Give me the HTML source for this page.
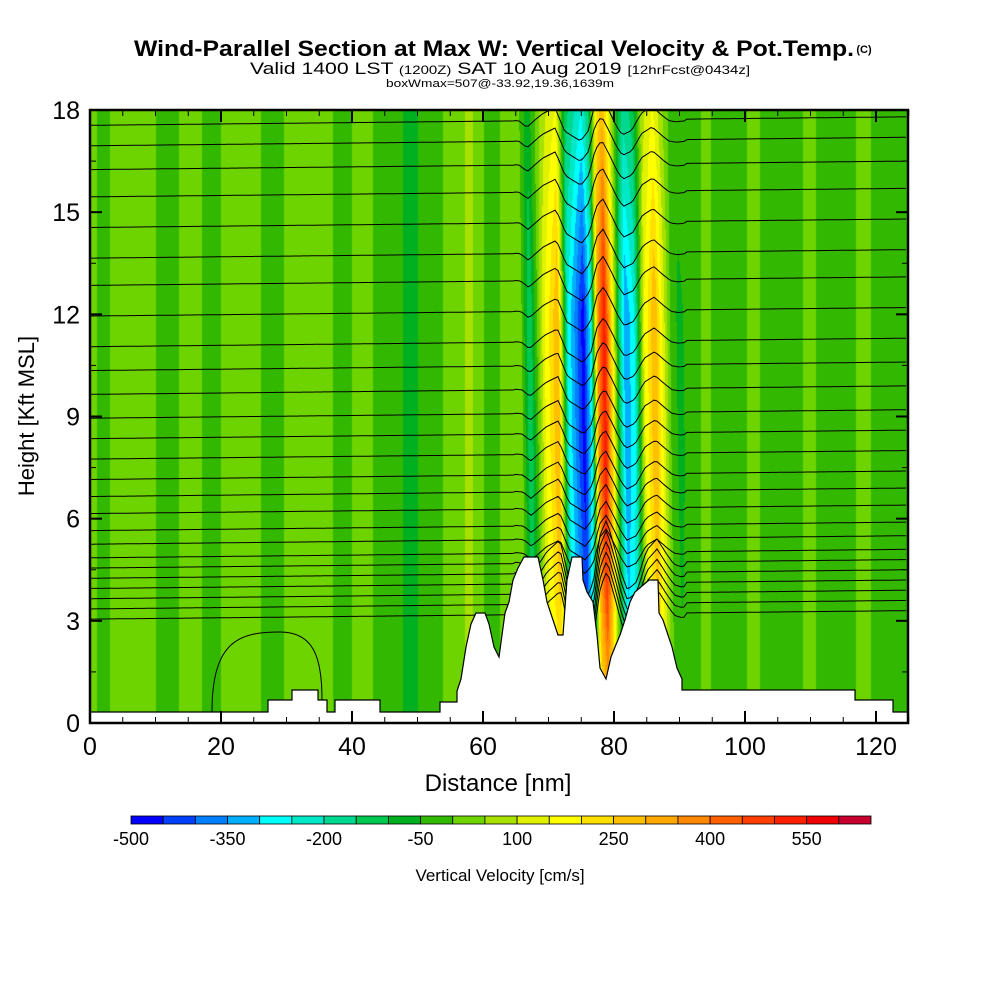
<!DOCTYPE html>
<html><head><meta charset="utf-8"><style>
html,body{margin:0;padding:0;background:#fff;width:1000px;height:1000px;overflow:hidden}
#wrap{position:relative;width:1000px;height:1000px}
canvas{position:absolute;left:90px;top:110px}
svg{position:absolute;left:0;top:0}
text{font-family:"Liberation Sans",sans-serif;fill:#000}
</style></head><body>
<div id="wrap">
<canvas id="field" width="818" height="613"></canvas>
<svg id="ov" width="1000" height="1000">
<defs><clipPath id="pc"><rect x="90" y="110" width="818" height="613"/></clipPath></defs>
<text x="494" y="56" text-anchor="middle" font-size="22" font-weight="bold" textLength="720" lengthAdjust="spacingAndGlyphs">Wind-Parallel Section at Max W: Vertical Velocity &amp; Pot.Temp.</text>
<text x="864" y="53" text-anchor="middle" font-size="11" font-weight="bold">(C)</text>
<text x="500" y="74" text-anchor="middle" font-size="17" textLength="500" lengthAdjust="spacingAndGlyphs">Valid 1400 LST <tspan font-size="12">(1200Z)</tspan> SAT 10 Aug 2019 <tspan font-size="12">[12hrFcst@0434z]</tspan></text>
<text x="500" y="87" text-anchor="middle" font-size="11" textLength="228" lengthAdjust="spacingAndGlyphs">boxWmax=507@-33.92,19.36,1639m</text>
<g id="contours" clip-path="url(#pc)"></g>
<polygon id="terrain" fill="#fff" stroke="#000" stroke-width="1.2"></polygon>
<rect x="90" y="110" width="818" height="613" fill="none" stroke="#000" stroke-width="2.5"></rect>
<g id="axes"></g>
<text x="498" y="791" text-anchor="middle" font-size="24">Distance [nm]</text>
<text transform="translate(34,416) rotate(-90)" text-anchor="middle" font-size="22">Height [Kft MSL]</text>
<g id="cbar"></g>
<text x="500" y="881" text-anchor="middle" font-size="17">Vertical Velocity [cm/s]</text>
</svg>
</div>
<script>
// ---- data ----
const xTicks=[0,20,40,60,80,100,120];
const yTicks=[0,3,6,9,12,15,18];
const cbarLabels=[-500,-350,-200,-50,100,250,400,550];
const cbarColors=['#0000ff','#0040ff','#0080ff','#00b0ff','#00ffff','#00e8c8','#00d890','#00c850','#00b020','#33b800','#6dd400','#a8e000','#e0f200','#ffff00','#ffe000','#ffc000','#ffa800','#ff8800','#ff6000','#ff4000','#ff2000','#f00000','#c80030'];
const profNm=[0,2,4,9,11,16,18,22,24,28,31,36,38,42,45,49,52,55,58,61,64,66,67.2,69.5,71.5,73,75.4,76.6,77.6,78.6,79.8,80.9,81.8,83.2,84.7,86.3,87.8,88.9,90,92,94,96,99,101,104,107,110,112,115,118,121,125];
const profW=[20,-20,20,20,-20,20,-20,20,20,-20,20,20,-20,20,-30,-60,-30,20,60,-30,30,0,-150,150,300,-250,-480,-250,350,550,200,-150,-350,-250,150,300,100,-30,-60,-30,20,-30,-30,20,-30,-30,20,-30,-30,20,-30,-30];
const terrainPx=[[90,712],[268,712],[268,700],[292,700],[292,690],[318,690],[318,700],[327,700],[327,712],[335,712],[335,700],[380,700],[380,712],[440,712],[440,702],[457,702],[457,691],[461,679],[466,647],[471,624],[476,613],[485,613],[489,624],[494,647],[499,657],[505,613],[509,602],[513,580],[518,568],[524,557],[538,557],[543,580],[547,602],[553,620],[558,635],[563,635],[567,580],[572,557],[582,557],[583,580],[587,592],[593,602],[597,635],[600,668],[606,679],[611,657],[615,647],[620,635],[625,620],[630,602],[635,592],[649,580],[658,580],[659,613],[663,620],[668,635],[672,647],[677,668],[682,679],[682,690],[855,690],[855,700],[893,700],[893,712],[908,712],[908,723],[90,723]];
const contourBaseKft=[17.8,17.2,16.5,15.7,14.8,13.9,13.1,12.2,11.3,10.6,9.9,9.2,8.6,8.0,7.4,6.9,6.4,5.9,5.5,5.1,4.8,4.5,4.2,3.9,3.6,3.3];
// ---- axes ----
const X0=90,X1=908,Y0=723,Y1=110;
const sx=nm=>X0+nm*(876-90)/120, sy=k=>Y0-k*(Y0-Y1)/18;
const nmFromPx=px=>(px-X0)*120/(876-90);
function interp(nm){
 if(nm<=profNm[0])return profW[0];
 for(let i=1;i<profNm.length;i++){if(nm<=profNm[i]){const t=(nm-profNm[i-1])/(profNm[i]-profNm[i-1]);return profW[i-1]+t*(profW[i]-profW[i-1]);}}
 return profW[profW.length-1];
}
function amp(k){ if(k<4)return 0.5+0.1*k; if(k<8)return 0.9+0.025*(k-4); if(k<12)return 1; return 1-0.08*(k-12);}
const cv=document.getElementById('field'),ctx=cv.getContext('2d');
const img=ctx.createImageData(818,613);
const rgb=cbarColors.map(c=>[parseInt(c.substr(1,2),16),parseInt(c.substr(3,2),16),parseInt(c.substr(5,2),16)]);
for(let py=0;py<613;py++){const k=(613-py)/613*18;const a=amp(k);
 for(let px=0;px<818;px++){
  let nm=nmFromPx(px+X0);
  const centre=nm>65&&nm<91;
  if(centre) nm+= (k-9)*0.06;
  let w=interp(nm); if(centre) w*=a;
  let s=Math.floor((w+500)/50); s=Math.max(0,Math.min(22,s));
  const i=(py*818+px)*4,c=rgb[s];img.data[i]=c[0];img.data[i+1]=c[1];img.data[i+2]=c[2];img.data[i+3]=255;}}
ctx.putImageData(img,0,0);
const NS='http://www.w3.org/2000/svg';
function mk(t,at,p){const e=document.createElementNS(NS,t);for(const k in at)e.setAttribute(k,at[k]);p.appendChild(e);return e;}
// contours
const cg=document.getElementById('contours');
contourBaseKft.forEach((kb,j)=>{
 let d='';
 for(let px=X0;px<=X1;px+=3){const nm=nmFromPx(px);
  let k=kb-(1-nm/125)*0.25;
  let disp=0; if(nm>65&&nm<91){disp=interp(nm+(kb-9)*0.06)/550*0.7*(kb<5?1.8:1);}
  const y=sy(k+disp); d+=(px===X0?'M':'L')+px+','+y.toFixed(1);}
 const p=mk('path',{d:d,fill:'none',stroke:'#000','stroke-width':1},cg);
 
 
});
const lc=mk('path',{d:'M212,712 C212,640 240,632 280,632 C315,632 322,660 322,700',fill:'none',stroke:'#000','stroke-width':1},cg);


document.getElementById('terrain').setAttribute('points',terrainPx.map(p=>p.join(',')).join(' '));
// ticks & labels
const ax=document.getElementById('axes');
for(let v=0;v<=125;v+=5){const x=sx(v);const big=v%20===0;
 mk('line',{x1:x,x2:x,y1:Y0,y2:Y0-(big?12:6),stroke:'#000','stroke-width':big?2:1},ax);
 mk('line',{x1:x,x2:x,y1:Y1,y2:Y1+(big?12:6),stroke:'#000','stroke-width':big?2:1},ax);}
for(let v=0;v<=18;v+=1.5){const y=sy(v);const big=v%3===0;
 mk('line',{x1:X0,x2:X0+(big?12:6),y1:y,y2:y,stroke:'#000','stroke-width':big?2:1},ax);
 mk('line',{x1:X1,x2:X1-(big?12:6),y1:y,y2:y,stroke:'#000','stroke-width':big?2:1},ax);}
xTicks.forEach(v=>{const t=mk('text',{x:sx(v),y:755,'text-anchor':'middle','font-size':25},ax);t.textContent=v;
 
 });
yTicks.forEach(v=>{const t=mk('text',{x:80,y:sy(v)+9,'text-anchor':'end','font-size':25},ax);t.textContent=v;
 
 });
// colorbar
const cb=document.getElementById('cbar');const cx0=131,cw=740/23;
cbarColors.forEach((c,i)=>{const r=mk('rect',{x:cx0+i*cw,y:816,width:cw,height:8,fill:c,stroke:'#000','stroke-width':0.8},cb);
 
 });
cbarLabels.forEach((v,i)=>{const t=mk('text',{x:cx0+i*3*cw,y:845,'text-anchor':'middle','font-size':18},cb);t.textContent=v;
 
 });
</script>
</body></html>
